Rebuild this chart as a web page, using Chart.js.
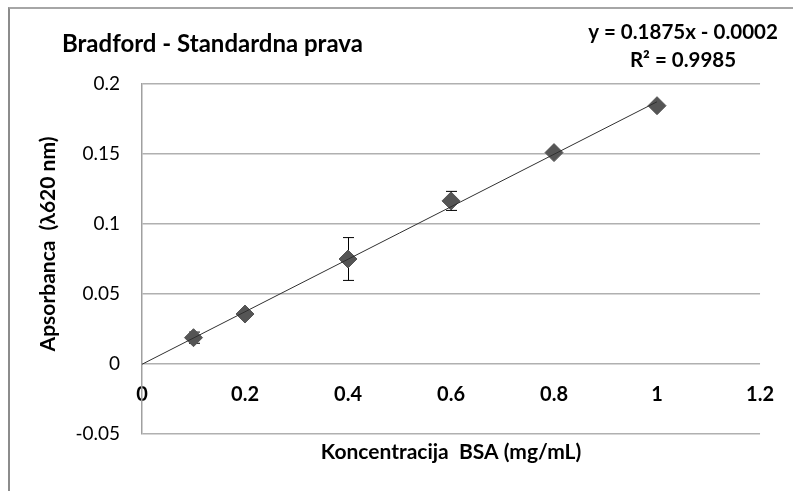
<!DOCTYPE html>
<html>
<head>
<meta charset="utf-8">
<script src="https://cdn.jsdelivr.net/npm/chart.js@4/dist/chart.umd.min.js"></script>
<style>
  html, body { margin: 0; padding: 0; background: #fff; }
  #wrap { position: relative; width: 793px; height: 491px; }
  #frame { position: absolute; left: 8px; top: 7px; right: 0; bottom: 0;
           border-left: 2px solid #8c8c8c; border-top: 2px solid #a6a6a6; }
  canvas { position: absolute; left: 0; top: 0; }
</style>
</head>
<body>
<div id="wrap">
  <div id="frame"></div>
  <canvas id="bradfordChart" width="793" height="491"></canvas>
</div>
<script>
// BSA standard: concentration (mg/mL), mean absorbance, std deviation
const concentrations = [0.1, 0.2, 0.4, 0.6, 0.8, 1.0];
const absorbance = [0.0188, 0.0357, 0.0750, 0.1165, 0.1510, 0.1845];
const stdDev = [0.0040, 0.0015, 0.0153, 0.0068, 0.0015, 0.0015];

// linear fit shown on the chart
const slope = 0.1875;
const intercept = -0.0002;
const fitRange = [0, 1];

const chartTitle = 'Bradford - Standardna prava';
const equationLines = ['y = 0.1875x - 0.0002', 'R\u00B2 = 0.9985'];
const xTitle = 'Koncentracija  BSA (mg/mL)';
const yTitle = 'Apsorbanca  (\u03BB620 nm)';

const FONT = 'Lato, "Open Sans", sans-serif';

const points = concentrations.map((c, i) => ({ x: c, y: absorbance[i] }));
const fitPoints = fitRange.map(x => ({ x: x, y: slope * x + intercept }));

// error bars drawn under the markers
const errorBars = {
    id: 'errorBars',
    beforeDatasetsDraw(chart) {
        const ctx = chart.ctx;
        const xs = chart.scales.x, ys = chart.scales.y;
        ctx.save();
        ctx.strokeStyle = '#000';
        ctx.lineWidth = 1;
        concentrations.forEach((c, i) => {
            const px = Math.round(xs.getPixelForValue(c)) + 0.5;
            const top = ys.getPixelForValue(absorbance[i] + stdDev[i]);
            const bot = ys.getPixelForValue(absorbance[i] - stdDev[i]);
            ctx.beginPath();
            ctx.moveTo(px, top); ctx.lineTo(px, bot);
            ctx.moveTo(px - 5.5, top); ctx.lineTo(px + 5.5, top);
            ctx.moveTo(px - 5.5, bot); ctx.lineTo(px + 5.5, bot);
            ctx.stroke();
        });
        ctx.restore();
    }
};

// title, equation and both axis titles
const labels = {
    id: 'labels',
    afterDraw(chart) {
        const ctx = chart.ctx;
        const area = chart.chartArea;
        ctx.save();
        ctx.fillStyle = '#000';
        ctx.textBaseline = 'middle';

        ctx.font = 'bold 24px ' + FONT;
        ctx.textAlign = 'left';
        ctx.fillText(chartTitle, 62, 44);

        ctx.font = 'bold 20.5px ' + FONT;
        ctx.textAlign = 'center';
        ctx.fillText(equationLines[0], 683, 32);
        ctx.fillText(equationLines[1], 683, 60);

        ctx.font = 'bold 21px ' + FONT;
        ctx.fillText(xTitle, (area.left + area.right) / 2, 452);

        ctx.translate(48, 244);
        ctx.rotate(-Math.PI / 2);
        ctx.fillText(yTitle, 0, 0);
        ctx.restore();
    }
};

const ctx = document.getElementById('bradfordChart').getContext('2d');
const bradfordChart = new Chart(ctx, {
    type: 'scatter',
    data: {
        datasets: [{
            label: 'Linear fit',
            type: 'line',
            data: fitPoints,
            borderColor: '#303030',
            borderWidth: 1,
            pointRadius: 0,
            fill: false,
            order: 0
        }, {
            label: 'Standard',
            data: points,
            pointStyle: 'rectRot',
            pointRadius: 9,
            pointHoverRadius: 9,
            backgroundColor: '#555555',
            borderColor: '#555555',
            borderWidth: 1,
            order: 1
        }]
    },
    options: {
        responsive: false,
        animation: false,
        events: [],
        layout: { padding: { left: 34, top: 84, right: 28, bottom: 57 } },
        plugins: {
            legend: { display: false },
            tooltip: { enabled: false }
        },
        scales: {
            x: {
                type: 'linear',
                position: { y: 0 },
                min: 0,
                max: 1.2,
                afterFit(scale) { scale.height = 0; },
                ticks: {
                    stepSize: 0.2,
                    padding: 19,
                    color: '#000',
                    font: { family: FONT, size: 20, weight: 'bold' },
                    callback: v => +v.toFixed(1)
                },
                grid: { display: false, drawTicks: false },
                border: { display: false }
            },
            y: {
                min: -0.05,
                max: 0.2,
                afterFit(scale) { scale.width = 142 - 34; },
                ticks: {
                    stepSize: 0.05,
                    padding: 22,
                    color: '#000',
                    font: { family: FONT, size: 19 },
                    callback: v => +v.toFixed(2)
                },
                grid: { color: '#b0b0b0', lineWidth: 1.5, drawTicks: false },
                border: { display: true, color: '#a0a0a0', width: 1.5 }
            }
        }
    },
    plugins: [errorBars, labels]
});
</script>
</body>
</html>
